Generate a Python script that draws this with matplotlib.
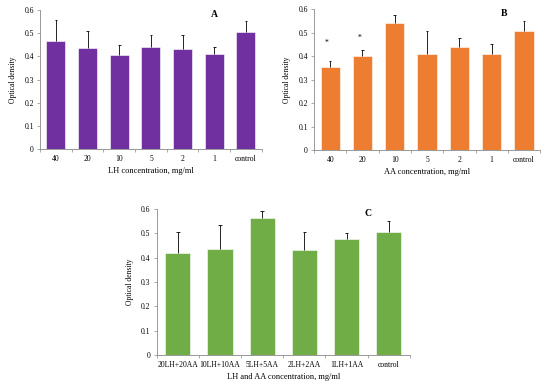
import numpy as np
import matplotlib.pyplot as plt
from matplotlib.ticker import FixedLocator

# Panel A - LH
lh_labels = ["40", "20", "10", "5", "2", "1", "control"]
lh_means = [0.467, 0.437, 0.407, 0.439, 0.430, 0.409, 0.506]
lh_err = [0.090, 0.072, 0.042, 0.052, 0.064, 0.033, 0.045]

# Panel B - AA
aa_labels = ["40", "20", "10", "5", "2", "1", "control"]
aa_means = [0.353, 0.403, 0.543, 0.408, 0.441, 0.411, 0.508]
aa_err = [0.028, 0.025, 0.033, 0.098, 0.038, 0.040, 0.044]
aa_star = [0.459, 0.477, None, None, None, None, None]

# Panel C - LH + AA
mix_labels = ["20LH+20AA", "10LH+10AA", "5LH+5AA", "2LH+2AA", "1LH+1AA", "control"]
mix_means = [0.420, 0.438, 0.562, 0.431, 0.479, 0.504]
mix_err = [0.085, 0.098, 0.031, 0.074, 0.022, 0.047]

plt.rcParams["font.family"] = ["Liberation Serif", "DejaVu Serif"]
plt.rcParams["font.size"] = 5.5

fig = plt.figure(figsize=(5.5, 3.88), dpi=100)


def panel(rect, labels, means, err, color, xlabel, letter, letter_x, stars=None):
    ax = fig.add_axes(rect)
    x = np.arange(len(labels))
    means = np.array(means)
    tops = means + np.array(err)
    ax.bar(x, means, width=0.6, color=color, edgecolor="white", linewidth=0.4)
    # upper error bars only (no cap at the bar top)
    ax.vlines(x, means, tops, color="black", linewidth=0.6)
    ax.hlines(tops, x - 0.04, x + 0.04, color="black", linewidth=0.6)
    if stars:
        for xi, s in zip(x, stars):
            if s is not None:
                ax.text(xi - 0.1, s, "*", ha="center", va="center", fontsize=5.5)
    ax.set_xlim(-0.5, len(labels) - 0.5)
    ax.set_ylim(0, 0.6)
    ax.set_yticks(np.arange(0, 0.61, 0.1))
    ax.set_yticklabels(["0", "0.1", "0.2", "0.3", "0.4", "0.5", "0.6"])
    ax.set_xticks(x)
    ax.set_xticklabels(labels)
    ax.xaxis.set_minor_locator(FixedLocator(np.arange(-0.5, len(labels), 1.0)))
    ax.tick_params(axis="x", which="major", length=0, pad=4)
    ax.tick_params(axis="x", which="minor", length=2.5, width=0.5, color="#888888")
    ax.tick_params(axis="y", length=2.5, width=0.5, color="#888888", pad=2)
    for s in ["top", "right"]:
        ax.spines[s].set_visible(False)
    for s in ["left", "bottom"]:
        ax.spines[s].set_color("#888888")
        ax.spines[s].set_linewidth(0.6)
    ax.set_ylabel("Optical density", labelpad=5)
    ax.set_xlabel(xlabel, fontsize=6, labelpad=3)
    ax.text(letter_x, 0.6, letter, ha="center", va="top", fontsize=7, fontweight="bold")
    return ax


panel([0.073, 0.616, 0.403, 0.358], lh_labels, lh_means, lh_err, "#7030A0",
      "LH concentration, mg/ml", "A", 5.0)
panel([0.571, 0.613, 0.411, 0.363], aa_labels, aa_means, aa_err, "#ED7D31",
      "AA concentration, mg/ml", "B", 5.4, aa_star)
panel([0.285, 0.085, 0.460, 0.376], mix_labels, mix_means, mix_err, "#70AD47",
      "LH and AA concentration, mg/ml", "C", 4.5)

fig.savefig("out.png", dpi=100)
